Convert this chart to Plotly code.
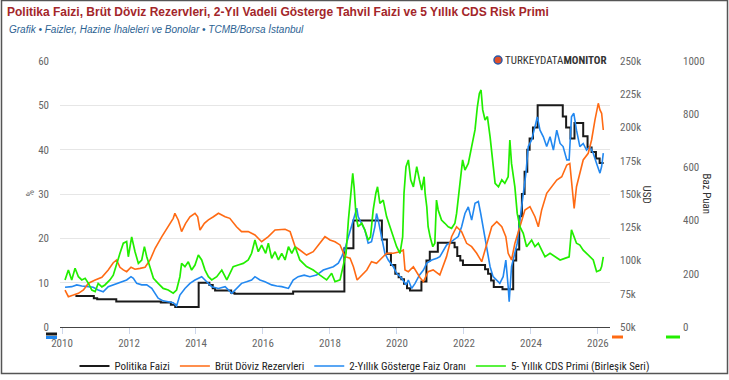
import plotly.graph_objects as go

# ---------------- data ----------------
policy_years = [2010.40, 2010.95, 2011.05, 2011.62, 2012.95, 2013.25, 2013.38, 2014.08, 2014.40, 2014.50,
                2014.57, 2015.05, 2015.15, 2016.90, 2018.43, 2018.70, 2019.55, 2019.70, 2019.82, 2019.95,
                2020.05, 2020.13, 2020.21, 2020.30, 2020.39, 2020.73, 2020.88, 2020.98, 2021.22, 2021.72,
                2021.80, 2021.89, 2021.97, 2022.63, 2022.72, 2022.81, 2022.89, 2023.15, 2023.47, 2023.56,
                2023.65, 2023.73, 2023.81, 2023.89, 2023.96, 2024.06, 2024.20, 2024.95, 2025.05, 2025.18,
                2025.30, 2025.56, 2025.69, 2025.81, 2025.94, 2026.05, 2026.17]
policy_rate = [7.0, 6.5, 6.25, 5.75, 5.5, 5.0, 4.5, 10.0, 9.5, 8.75,
               8.25, 7.75, 7.5, 8.0, 17.75, 24.0, 19.75, 16.5, 14.0, 12.0,
               11.25, 10.75, 9.75, 8.75, 8.25, 10.25, 15.0, 17.0, 19.0, 18.0,
               16.0, 15.0, 14.0, 13.0, 12.0, 10.5, 9.0, 8.5, 15.0, 17.5,
               25.0, 30.0, 35.0, 40.0, 42.5, 45.0, 50.0, 47.5, 45.0, 42.5,
               46.0, 43.0, 40.5, 39.5, 38.0, 37.0, 37.0]

reserve_years = [2010.09, 2010.19, 2010.34, 2010.49, 2010.64, 2010.79, 2010.99, 2011.19, 2011.38, 2011.53,
                 2011.63, 2011.73, 2011.83, 2011.93, 2012.06, 2012.18, 2012.33, 2012.48, 2012.63, 2012.78,
                 2012.98, 2013.17, 2013.32, 2013.37, 2013.47, 2013.57, 2013.69, 2013.82, 2013.97, 2014.05,
                 2014.12, 2014.25, 2014.37, 2014.52, 2014.67, 2014.87, 2015.01, 2015.21, 2015.36, 2015.56,
                 2015.76, 2015.96, 2016.16, 2016.36, 2016.66, 2016.81, 2016.96, 2017.10, 2017.30, 2017.50,
                 2017.70, 2017.85, 2018.00, 2018.15, 2018.30, 2018.45, 2018.60, 2018.70, 2018.81, 2018.95,
                 2019.10, 2019.24, 2019.39, 2019.54, 2019.69, 2019.89, 2020.09, 2020.19, 2020.24, 2020.34,
                 2020.49, 2020.69, 2020.79, 2020.93, 2021.08, 2021.28, 2021.48, 2021.63, 2021.78, 2021.93,
                 2022.08, 2022.23, 2022.38, 2022.53, 2022.68, 2022.83, 2022.98, 2023.13, 2023.25, 2023.32,
                 2023.42, 2023.52, 2023.67, 2023.82, 2023.97, 2024.12, 2024.22, 2024.32, 2024.47, 2024.62,
                 2024.77, 2024.92, 2025.07, 2025.16, 2025.24, 2025.29, 2025.36, 2025.46, 2025.56, 2025.71,
                 2025.81, 2025.91, 2026.01, 2026.06, 2026.11, 2026.16]
reserves_musd = [77800, 72800, 74000, 75300, 77800, 82900, 85300, 87400, 92900, 98300,
                 100400, 94900, 92900, 91600, 94900, 93400, 94100, 94900, 100400, 109200,
                 117900, 125400, 131700, 135500, 130500, 121700, 127900, 132900, 135500, 132900,
                 122900, 127900, 130500, 132900, 135500, 132900, 131700, 125400, 121700, 121700,
                 119200, 114100, 117900, 122900, 123500, 121700, 110400, 107900, 104100, 106600,
                 112900, 117900, 115400, 114100, 111700, 102900, 101700, 95300, 85300, 89100,
                 92900, 99100, 97900, 101700, 105400, 105400, 106600, 107900, 92900, 91600,
                 95300, 87000, 84100, 91600, 92900, 89100, 102900, 117900, 125400, 121700,
                 112900, 110400, 105400, 99100, 112900, 125400, 129200, 125400, 117900, 105400,
                 100400, 112900, 125400, 138000, 140500, 132900, 125400, 138000, 150500, 155500,
                 160500, 163000, 171800, 173000, 153000, 139200, 155500, 165600, 175600, 180600,
                 190600, 205600, 218200, 213200, 210700, 198100]

bond_years = [2010.09, 2010.29, 2010.44, 2010.59, 2010.79, 2010.93, 2011.08, 2011.23, 2011.38, 2011.53,
              2011.68, 2011.78, 2011.93, 2012.06, 2012.13, 2012.23, 2012.38, 2012.53, 2012.68, 2012.87,
              2013.02, 2013.17, 2013.32, 2013.42, 2013.52, 2013.67, 2013.82, 2013.97, 2014.17, 2014.32,
              2014.47, 2014.67, 2014.87, 2015.07, 2015.21, 2015.36, 2015.51, 2015.66, 2015.76, 2015.91,
              2016.06, 2016.26, 2016.41, 2016.56, 2016.76, 2016.90, 2017.05, 2017.23, 2017.40, 2017.60,
              2017.80, 2017.95, 2018.10, 2018.25, 2018.35, 2018.45, 2018.55, 2018.65, 2018.75, 2018.80,
              2018.84, 2018.95, 2019.04, 2019.14, 2019.24, 2019.34, 2019.39, 2019.44, 2019.54, 2019.64,
              2019.74, 2019.89, 2019.99, 2020.14, 2020.27, 2020.34, 2020.44, 2020.54, 2020.67, 2020.79,
              2020.89, 2021.04, 2021.19, 2021.28, 2021.48, 2021.68, 2021.83, 2021.93, 2022.03, 2022.13,
              2022.23, 2022.33, 2022.43, 2022.50, 2022.58, 2022.68, 2022.78, 2022.87, 2022.98, 2023.07,
              2023.17, 2023.25, 2023.32, 2023.35, 2023.42, 2023.52, 2023.59, 2023.67, 2023.77, 2023.85,
              2023.92, 2024.02, 2024.12, 2024.19, 2024.27, 2024.37, 2024.47, 2024.57, 2024.67, 2024.77,
              2024.87, 2024.96, 2025.07, 2025.14, 2025.21, 2025.28, 2025.36, 2025.46, 2025.56, 2025.66,
              2025.76, 2025.86, 2025.96, 2026.06, 2026.11, 2026.16]
bond_2y = [8.95, 9.1, 9.5, 9.25, 9.1, 8.95, 8.35, 7.95, 9.1, 9.5,
           9.85, 10.2, 10.6, 11.35, 11.0, 9.85, 9.5, 9.5, 8.7, 6.5,
           5.9, 5.7, 5.5, 4.75, 7.2, 8.7, 9.85, 10.6, 11.35, 10.2,
           9.1, 8.7, 9.1, 7.6, 8.7, 9.85, 10.2, 10.6, 11.35, 10.6,
           10.2, 9.5, 9.25, 9.1, 8.7, 10.6, 11.35, 11.7, 11.35, 11.7,
           12.85, 13.2, 13.6, 14.4, 15.85, 17.75, 20.4, 22.6, 25.6, 26.8,
           24.9, 23.4, 21.9, 18.9, 19.25, 22.6, 25.6, 24.1, 20.4, 16.6,
           15.1, 13.6, 12.1, 11.0, 9.5, 10.6, 8.7, 9.85, 11.7, 12.85,
           14.4, 15.1, 15.5, 15.85, 18.5, 19.6, 20.4, 22.6, 25.6, 27.1,
           24.1, 27.9, 28.3, 25.6, 21.9, 18.1, 13.6, 11.35, 10.6, 9.85,
           11.35, 15.1, 9.1, 5.7, 13.6, 16.6, 18.9, 24.1, 29.4, 34.7,
           40.7, 42.2, 45.2, 47.4, 44.4, 42.9, 40.7, 42.9, 39.9, 44.4,
           41.4, 40.7, 37.7, 37.7, 47.4, 48.2, 44.4, 40.7, 41.4, 39.9,
           40.7, 39.2, 36.9, 34.7, 36.2, 39.2]

cds_years = [2010.09, 2010.19, 2010.29, 2010.39, 2010.49, 2010.59, 2010.69, 2010.79, 2010.89, 2010.99,
             2011.08, 2011.19, 2011.28, 2011.43, 2011.53, 2011.63, 2011.73, 2011.83, 2011.93, 2011.98,
             2012.08, 2012.18, 2012.28, 2012.38, 2012.46, 2012.53, 2012.63, 2012.73, 2012.87, 2013.02,
             2013.17, 2013.32, 2013.42, 2013.52, 2013.57, 2013.67, 2013.77, 2013.87, 2013.97, 2014.07,
             2014.17, 2014.27, 2014.37, 2014.47, 2014.62, 2014.77, 2014.92, 2015.01, 2015.11, 2015.26,
             2015.41, 2015.56, 2015.66, 2015.76, 2015.86, 2015.96, 2016.08, 2016.16, 2016.26, 2016.36,
             2016.46, 2016.56, 2016.66, 2016.76, 2016.86, 2016.96, 2017.10, 2017.30, 2017.50, 2017.70,
             2017.90, 2018.05, 2018.15, 2018.30, 2018.40, 2018.48, 2018.55, 2018.62, 2018.68, 2018.72,
             2018.78, 2018.84, 2018.95, 2019.04, 2019.14, 2019.21, 2019.29, 2019.37, 2019.42, 2019.49,
             2019.59, 2019.69, 2019.79, 2019.89, 2019.99, 2020.09, 2020.17, 2020.21, 2020.27, 2020.34,
             2020.41, 2020.49, 2020.59, 2020.67, 2020.74, 2020.81, 2020.84, 2020.89, 2020.93, 2020.99,
             2021.07, 2021.13, 2021.18, 2021.23, 2021.33, 2021.43, 2021.53, 2021.63, 2021.73, 2021.78,
             2021.88, 2021.96, 2022.03, 2022.13, 2022.23, 2022.33, 2022.40, 2022.46, 2022.51, 2022.56,
             2022.63, 2022.70, 2022.78, 2022.86, 2022.93, 2023.03, 2023.13, 2023.22, 2023.32, 2023.37,
             2023.42, 2023.52, 2023.59, 2023.67, 2023.77, 2023.87, 2024.02, 2024.12, 2024.22, 2024.32,
             2024.42, 2024.57, 2024.72, 2024.87, 2025.01, 2025.14, 2025.21, 2025.28, 2025.36, 2025.46,
             2025.56, 2025.66, 2025.76, 2025.86, 2025.96, 2026.07, 2026.11, 2026.16]
cds_bp = [177, 214, 177, 221, 189, 177, 183, 164, 139, 133,
          164, 151, 158, 177, 195, 239, 277, 315, 321, 264,
          339, 283, 239, 252, 302, 264, 221, 183, 164, 145,
          139, 127, 139, 189, 239, 227, 245, 214, 233, 271,
          252, 214, 189, 177, 189, 214, 177, 202, 227, 233,
          239, 252, 277, 327, 283, 308, 277, 315, 258, 283,
          252, 277, 252, 302, 277, 302, 252, 227, 214, 195,
          177, 202, 170, 177, 227, 277, 402, 503, 578, 527,
          415, 377, 390, 365, 327, 339, 440, 503, 527, 465,
          477, 415, 377, 339, 302, 277, 339, 503, 603, 628,
          553, 527, 603, 553, 515, 565, 503, 452, 377, 339,
          302, 315, 477, 440, 402, 390, 377, 371, 390, 427,
          527, 628, 590, 615, 678, 741, 828, 878, 891, 816,
          778, 791, 715, 615, 540, 527, 553, 540, 565, 703,
          615, 527, 427, 377, 352, 302, 327, 302, 315, 289,
          264, 277, 264, 252, 258, 264, 365, 339, 315, 308,
          289, 277, 264, 252, 208, 214, 227, 264]

series_names = ["Politika Faizi", "Brüt Döviz Rezervleri", "2-Yıllık Gösterge Faiz Oranı",
                "5- Yıllık CDS Primi (Birleşik Seri)"]
series_colors = ["#1a1a1a", "#ff6a13", "#2288f0", "#22ee00"]
x_ticks = [2010, 2012, 2014, 2016, 2018, 2020, 2022, 2024, 2026]

# ---------------- figure ----------------
W, H = 729, 380
ML, MR, MT, MB = 60, 20, 61, 53
PW = W - ML - MR
PLOT_W = 550
DOM = PLOT_W / PW

NARROW = "Liberation Sans Narrow, Arial Narrow, Roboto Condensed, Liberation Sans, Arial"
TICKC = "#666666"

fig = go.Figure()
fig.add_trace(go.Scatter(x=policy_years, y=policy_rate, name=series_names[0], mode="lines",
                         line=dict(color=series_colors[0], width=2, shape="hv"), yaxis="y"))
fig.add_trace(go.Scatter(x=reserve_years, y=reserves_musd, name=series_names[1], mode="lines",
                         line=dict(color=series_colors[1], width=1.6), yaxis="y2"))
fig.add_trace(go.Scatter(x=bond_years, y=bond_2y, name=series_names[2], mode="lines",
                         line=dict(color=series_colors[2], width=1.6), yaxis="y"))
fig.add_trace(go.Scatter(x=cds_years, y=cds_bp, name=series_names[3], mode="lines",
                         line=dict(color=series_colors[3], width=1.7), yaxis="y3"))


def xd(px):
    return (px - ML) / PLOT_W


def yd(py):
    return (H - MB - py) / (H - MT - MB)


shapes = [
    # outer frame
    dict(type="rect", xref="x domain", yref="y domain", x0=xd(1.5), x1=xd(727.5), y0=yd(373.5), y1=yd(0.5),
         line=dict(color="#555555", width=1.5), layer="below"),
    # axis colour marks
    dict(type="line", xref="x domain", yref="y domain", x0=xd(46), x1=xd(57), y0=yd(334), y1=yd(334),
         line=dict(color=series_colors[0], width=3)),
    dict(type="line", xref="x domain", yref="y domain", x0=xd(46), x1=xd(57), y0=yd(337.5), y1=yd(337.5),
         line=dict(color=series_colors[2], width=3)),
    dict(type="line", xref="x domain", yref="y domain", x0=xd(612), x1=xd(623), y0=yd(337), y1=yd(337),
         line=dict(color=series_colors[1], width=3)),
    dict(type="line", xref="x domain", yref="y domain", x0=xd(666), x1=xd(680), y0=yd(337), y1=yd(337),
         line=dict(color=series_colors[3], width=3)),
    # logo ball
    dict(type="circle", xref="x domain", yref="y domain", x0=xd(494), x1=xd(502), y0=yd(64), y1=yd(56),
         fillcolor="#e0502a", line=dict(color="#2a5aa8", width=1.5)),
]

annotations = [
    dict(text="Grafik • Faizler, Hazine İhaleleri ve Bonolar • TCMB/Borsa İstanbul", xref="x domain",
         yref="y domain", x=xd(7), y=yd(29), xanchor="left", yanchor="middle", showarrow=False,
         font=dict(family="Liberation Sans, Arial", size=10, color="#2d6393", style="italic")),
    dict(text="%", xref="x domain", yref="y domain", x=xd(22), y=yd(194), textangle=-90, showarrow=False,
         font=dict(family=NARROW, size=10, color=TICKC)),
    dict(text="USD", xref="x domain", yref="y domain", x=xd(655), y=yd(194), textangle=90, showarrow=False,
         font=dict(family=NARROW, size=11, color="#333333")),
    dict(text="Baz Puan", xref="x domain", yref="y domain", x=xd(715), y=yd(194), textangle=90,
         showarrow=False, font=dict(family=NARROW, size=11, color="#333333")),
    dict(text="TURKEYDATA<b>MONITOR</b>", xref="x domain", yref="y domain", x=xd(503), y=yd(60),
         xanchor="left", yanchor="middle", showarrow=False,
         font=dict(family=NARROW, size=11, color="#333333")),
]

fig.update_layout(
    width=W, height=H,
    margin=dict(l=ML, r=MR, t=MT, b=MB, pad=0, autoexpand=False),
    paper_bgcolor="white", plot_bgcolor="white",
    title=dict(text="<b>Politika Faizi, Brüt Döviz Rezervleri, 2-Yıl Vadeli Gösterge Tahvil Faizi ve 5 Yıllık CDS Risk Primi</b>",
               x=7 / W, xanchor="left", xref="container", y=1 - 12 / H, yanchor="middle", yref="container",
               font=dict(family="Liberation Sans, Arial", size=12, color="#a3262a")),
    xaxis=dict(domain=[0, DOM], range=[2009.94, 2026.36], tickvals=x_ticks, ticktext=[str(t) for t in x_ticks],
               showgrid=False, zeroline=False, showline=True, linecolor="#444444", linewidth=1,
               ticks="outside", ticklen=6, tickcolor="#ccd6eb", automargin=False,
               tickfont=dict(family=NARROW, size=11, color=TICKC)),
    yaxis=dict(range=[0, 60], dtick=10, showgrid=True, gridcolor="#e6e6e6", zeroline=False,
               showline=False, ticks="", ticklabelstandoff=10, automargin=False,
               tickfont=dict(family=NARROW, size=11, color=TICKC)),
    yaxis2=dict(range=[50000, 250000], dtick=25000, overlaying="y", side="right", anchor="x",
                showgrid=False, zeroline=False, showline=False, ticks="", tickformat="~s",
                ticklabelstandoff=9, automargin=False, tickfont=dict(family=NARROW, size=11, color=TICKC)),
    yaxis3=dict(range=[0, 1000], dtick=200, overlaying="y", side="right", anchor="free",
                position=(676 - ML) / PW, showgrid=False, zeroline=False, showline=False, ticks="",
                ticklabelstandoff=6, automargin=False, tickfont=dict(family=NARROW, size=11, color=TICKC)),
    legend=dict(orientation="h", xref="container", yref="container", x=0.5, xanchor="center",
                y=1 - 366 / H, yanchor="middle", font=dict(family=NARROW, size=11, color="#222222"),
                itemwidth=30, tracegroupgap=0, bgcolor="rgba(0,0,0,0)"),
    shapes=shapes,
    annotations=annotations,
    showlegend=True,
)

fig.write_html("out.html", config={"displayModeBar": False},
               post_script="document.body.style.margin='0';document.body.style.overflow='hidden';")
